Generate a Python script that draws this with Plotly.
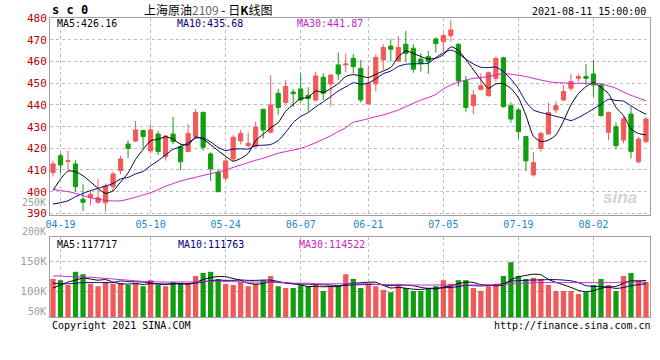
import plotly.graph_objects as go
import pandas as pd

# ---------------- data ----------------
dates = [
    "2021-04-16", "2021-04-19", "2021-04-20", "2021-04-21", "2021-04-22", "2021-04-23",
    "2021-04-26", "2021-04-27", "2021-04-28", "2021-04-29", "2021-04-30",
    "2021-05-06", "2021-05-07", "2021-05-10", "2021-05-11", "2021-05-12", "2021-05-13",
    "2021-05-14", "2021-05-17", "2021-05-18", "2021-05-19", "2021-05-20", "2021-05-21",
    "2021-05-24", "2021-05-25", "2021-05-26", "2021-05-27", "2021-05-28", "2021-05-31",
    "2021-06-01", "2021-06-02", "2021-06-03", "2021-06-04", "2021-06-07", "2021-06-08",
    "2021-06-09", "2021-06-10", "2021-06-11", "2021-06-15", "2021-06-16", "2021-06-17",
    "2021-06-18", "2021-06-21", "2021-06-22", "2021-06-23", "2021-06-24", "2021-06-25",
    "2021-06-28", "2021-06-29", "2021-06-30", "2021-07-01", "2021-07-02", "2021-07-05",
    "2021-07-06", "2021-07-07", "2021-07-08", "2021-07-09", "2021-07-12", "2021-07-13",
    "2021-07-14", "2021-07-15", "2021-07-16", "2021-07-19", "2021-07-20", "2021-07-21",
    "2021-07-22", "2021-07-23", "2021-07-26", "2021-07-27", "2021-07-28", "2021-07-29",
    "2021-07-30", "2021-08-02", "2021-08-03", "2021-08-04", "2021-08-05", "2021-08-06",
    "2021-08-09", "2021-08-10", "2021-08-11",
]
opens = [
    408.8, 416.6, 414.0, 412.8, 396.5, 397.2, 395.1, 394.9, 402.3, 409.7,
    422.0, 423.4, 428.2, 418.8, 426.6, 416.2, 426.6, 420.8, 418.5, 425.4,
    436.6, 417.4, 408.8, 406.2, 415.1, 423.4, 421.2, 420.8, 438.0, 427.4,
    445.4, 441.2, 446.0, 447.4, 444.5, 442.3, 452.8, 449.7, 458.5, 458.5,
    461.5, 456.9, 440.5, 449.7, 460.8, 467.2, 460.3, 468.0, 466.2, 461.2,
    462.3, 470.5, 469.2, 472.0, 468.0, 451.2, 439.7, 447.1, 444.3, 452.3,
    461.8, 439.7, 437.7, 425.4, 407.7, 420.0, 426.6, 437.7, 442.3, 447.7,
    452.3, 453.1, 454.3, 449.2, 427.4, 430.0, 423.8, 435.8, 413.8, 423.1,
]
highs = [
    414.3, 417.7, 418.8, 414.5, 403.4, 400.3, 405.8, 403.8, 409.2, 416.6,
    423.7, 432.6, 428.5, 431.2, 428.0, 426.2, 434.5, 421.8, 431.2, 438.2,
    436.9, 418.2, 410.5, 416.2, 426.2, 428.5, 427.4, 432.3, 438.2, 453.8,
    447.4, 451.5, 447.4, 454.6, 448.2, 455.4, 454.6, 454.2, 464.2, 463.8,
    463.5, 460.8, 458.2, 463.4, 468.0, 470.5, 471.8, 474.2, 468.0, 463.8,
    464.9, 471.1, 473.1, 479.2, 468.5, 453.4, 446.9, 454.6, 455.4, 462.3,
    462.3, 441.2, 438.5, 425.8, 418.2, 427.7, 441.1, 441.8, 449.2, 454.3,
    454.2, 458.9, 460.8, 450.0, 436.9, 432.0, 434.6, 439.2, 425.4, 434.6,
]
lows = [
    406.9, 408.5, 410.0, 400.0, 391.1, 393.8, 394.5, 390.8, 400.0, 408.0,
    415.4, 422.8, 420.0, 417.7, 416.9, 414.3, 422.0, 410.0, 418.2, 424.6,
    418.9, 405.1, 399.7, 405.1, 413.8, 421.8, 420.5, 420.3, 424.6, 426.9,
    435.4, 440.3, 439.2, 441.2, 436.9, 441.5, 442.3, 439.2, 451.5, 455.1,
    454.6, 441.2, 440.0, 446.2, 456.2, 460.0, 460.0, 460.0, 454.9, 455.4,
    454.3, 464.2, 464.6, 469.2, 448.5, 436.9, 435.8, 446.9, 443.8, 450.8,
    438.8, 431.8, 424.3, 409.5, 406.9, 418.5, 426.2, 436.2, 441.8, 446.5,
    450.8, 449.2, 443.8, 434.6, 423.8, 419.7, 422.3, 415.4, 413.1, 422.3,
]
closes = [
    412.8, 412.3, 414.2, 402.3, 395.1, 398.8, 397.2, 402.6, 408.2, 415.1,
    420.0, 428.5, 425.4, 428.5, 418.5, 425.7, 423.1, 413.8, 426.9, 436.6,
    420.5, 410.5, 400.0, 414.2, 425.1, 426.8, 422.2, 429.8, 428.5, 440.0,
    438.8, 448.5, 445.2, 442.3, 442.9, 453.4, 445.4, 453.8, 454.3, 458.9,
    457.7, 442.3, 450.0, 462.0, 466.5, 465.7, 466.6, 463.8, 456.5, 459.2,
    460.0, 468.3, 472.0, 474.6, 451.2, 438.8, 444.6, 448.9, 454.9, 461.5,
    439.2, 433.5, 427.7, 414.2, 413.4, 426.9, 436.6, 439.7, 446.2, 450.8,
    453.1, 452.3, 449.2, 435.1, 436.6, 421.2, 433.5, 418.5, 424.3, 433.5,
]
ma5_head = [400.5, 405.8, 409.5, 409.2]
ma10_head = [394.3, 394.9, 395.8, 397.7, 399.2, 400.5, 401.5, 402.6, 403.8]
ma30 = [
    401.1, 400.5, 400.0, 399.2, 398.2, 397.2, 396.5, 396.0, 395.7, 395.8,
    396.5, 397.4, 398.5, 399.5, 400.9, 402.5, 403.7, 404.9, 405.8, 406.6,
    407.5, 408.3, 409.1, 410.0, 411.2, 412.3, 413.4, 414.5, 415.4, 416.6,
    417.7, 418.5, 419.2, 420.0, 421.2, 422.6, 424.2, 425.8, 427.7, 429.5,
    432.0, 432.8, 433.7, 434.6, 435.4, 436.5, 437.7, 439.2, 440.8, 442.3,
    443.4, 444.9, 447.4, 449.2, 450.5, 451.5, 452.3, 452.6, 453.2, 453.8,
    454.5, 454.2, 453.7, 453.1, 452.3, 451.5, 450.8, 450.3, 450.2, 450.0,
    450.0, 450.0, 450.0, 449.7, 448.8, 447.7, 446.0, 444.5, 443.2, 441.9,
]
volumes = [
    120, 118, 110, 132, 128, 112, 108, 115, 112, 113,
    110, 112, 108, 118, 110, 108, 115, 112, 113, 125,
    130, 132, 120, 112, 110, 115, 108, 112, 118, 125,
    108, 105, 105, 110, 108, 112, 100, 108, 108, 128,
    120, 105, 112, 108, 102, 98, 110, 105, 100, 100,
    105, 108, 118, 112, 118, 118, 105, 100, 108, 112,
    125, 148, 125, 120, 122, 120, 110, 100, 100, 100,
    95, 98, 110, 120, 110, 100, 125, 130, 118, 115,
]
vol_ma5_head = [105, 110, 115, 118]
vol_ma10_head = [113, 112, 112, 113, 114, 114, 114, 114, 114]
vol_ma30 = [
    125, 125, 124, 124, 123, 123, 122, 121, 120, 119,
    118, 117, 116, 116, 115, 115, 115, 115, 115, 115,
    116, 116, 116, 116, 116, 115, 115, 115, 115, 115,
    114, 114, 113, 113, 113, 112, 112, 112, 112, 112,
    112, 112, 112, 111, 111, 111, 111, 110, 110, 110,
    110, 110, 110, 110, 110, 110, 110, 110, 110, 110,
    111, 112, 113, 113, 114, 114, 114, 114, 114, 114,
    114, 114, 114, 114, 114, 114, 115, 115, 115, 114.5,
]
tick_dates = ["2021-04-19", "2021-05-10", "2021-05-24", "2021-06-07",
              "2021-06-21", "2021-07-05", "2021-07-19", "2021-08-02"]
tick_text = ["04-19", "05-10", "05-24", "06-07", "06-21", "07-05", "07-19", "08-02"]
price_ticks = [390, 400, 410, 420, 430, 440, 450, 460, 470, 480]

# ---------------- derived series ----------------
cl = pd.Series(closes)
ma5 = cl.rolling(5).mean().tolist()
ma10 = cl.rolling(10).mean().tolist()
ma5[:len(ma5_head)] = ma5_head
ma10[:len(ma10_head)] = ma10_head

vol = pd.Series([v * 1000 for v in volumes])
vma5 = vol.rolling(5).mean().tolist()
vma10 = vol.rolling(10).mean().tolist()
vma5[:len(vol_ma5_head)] = [v * 1000 for v in vol_ma5_head]
vma10[:len(vol_ma10_head)] = [v * 1000 for v in vol_ma10_head]
vma30 = [v * 1000 for v in vol_ma30]

RED = "#F25A5A"
GREEN = "#129E12"
MONO = "DejaVu Sans Mono"
W, H = 660, 360


def fx(p):
    return p / W


def fy(p):
    return 1 - p / H


fig = go.Figure()
fig.add_trace(go.Candlestick(
    x=dates, open=opens, high=highs, low=lows, close=closes,
    increasing=dict(line=dict(color=RED, width=1), fillcolor=RED),
    decreasing=dict(line=dict(color=GREEN, width=1), fillcolor=GREEN),
    whiskerwidth=0, xaxis="x", yaxis="y", hoverinfo="skip",
))
for ys, col in [(ma5, "#000000"), (ma10, "#000080"), (ma30, "#CC22CC")]:
    fig.add_trace(go.Scatter(x=dates, y=ys, mode="lines", xaxis="x", yaxis="y",
                             line=dict(color=col, width=1, shape="spline", smoothing=0.6),
                             hoverinfo="skip"))

bar_colors = [RED if c >= o else GREEN for o, c in zip(opens, closes)]
fig.add_trace(go.Bar(x=dates, y=[v * 1000 for v in volumes], marker=dict(color=bar_colors, line=dict(width=0)),
                     xaxis="x2", yaxis="y2", hoverinfo="skip"))
for ys, col in [(vma5, "#000000"), (vma10, "#000080"), (vma30, "#CC22CC")]:
    fig.add_trace(go.Scatter(x=dates, y=ys, mode="lines", xaxis="x2", yaxis="y2",
                             line=dict(color=col, width=1, shape="spline", smoothing=0.6),
                             hoverinfo="skip"))

axis_common = dict(showline=True, mirror=True, linecolor="#A0A0A0", linewidth=1,
                   showgrid=True, gridcolor="#BDBDBD", griddash="dot", gridwidth=1,
                   zeroline=False, ticks="", fixedrange=True, automargin=False)

x_dom = [fx(50), fx(650)]
fig.update_layout(
    width=W, height=H, margin=dict(l=0, r=0, t=0, b=0, pad=0, autoexpand=False),
    paper_bgcolor="white", plot_bgcolor="white", showlegend=False,
    bargap=0.3, boxgap=0.2,
    xaxis=dict(domain=x_dom, type="category", range=[-0.4, 79.53], anchor="y",
               tickvals=tick_dates, ticktext=tick_text, rangeslider=dict(visible=False),
               tickfont=dict(family=MONO, size=10, color="#1E88C8"), **axis_common),
    yaxis=dict(domain=[fy(214.5), fy(18.3)], range=[389.46, 480], anchor="x",
               tickvals=price_ticks, tickfont=dict(family=MONO, size=11, color="#C00000"),
               **axis_common),
    xaxis2=dict(domain=x_dom, type="category", matches="x", anchor="y2",
                tickvals=tick_dates, showticklabels=False, **axis_common),
    yaxis2=dict(domain=[fy(317), fy(237)], range=[56667, 190000], anchor="x2",
                tickvals=[100000, 150000], ticktext=["100K", "150K"],
                tickfont=dict(family=MONO, size=11, color="#A0A0A0"), **axis_common),
)

ann = []


def text(x, y, s, color="#000000", size=10, xanchor="left", family=MONO):
    ann.append(dict(x=fx(x), y=fy(y), xref="paper", yref="paper", text=s, showarrow=False,
                    xanchor=xanchor, yanchor="middle", font=dict(family=family, size=size, color=color)))


text(50, 10, "<b>s c 0</b>", size=12)
text(142, 9, "上海原油<span style='color:#666666'>2109</span> - 日<b>K</b>线图", size=12,
     family="Noto Sans CJK SC")
text(648, 12, "2021-08-11 15:00:00", xanchor="right")
text(55, 24, "MA5:426.16")
text(175, 24, "MA10:435.68", color="#000080")
text(295, 24, "MA30:441.87", color="#CC22CC")
text(55, 244, "MA5:117717")
text(176, 244, "MA10:111763", color="#000080")
text(297, 244, "MA30:114522", color="#CC22CC")
text(48, 202, "250K", color="#A0A0A0", size=10, xanchor="right")
text(48, 231, "200K", color="#A0A0A0", size=10, xanchor="right")
text(48, 311, "50K", color="#A0A0A0", size=10, xanchor="right")
text(50, 325, "Copyright 2021 SINA.COM")
text(653, 325, "http://finance.sina.com.cn", xanchor="right")
text(620, 197, "<b><i>sina</i></b>", color="#D4D4D4", size=17, xanchor="center", family="Liberation Sans")
fig.update_layout(annotations=ann)

fig.write_html("out.html", config={"displayModeBar": False},
               post_script="document.body.style.margin='0';document.body.style.padding='0';")
